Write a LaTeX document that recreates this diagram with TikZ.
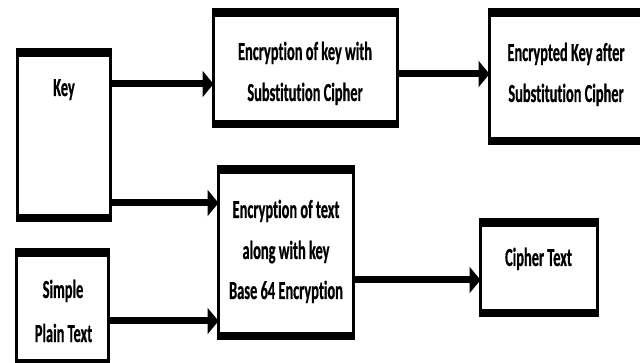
\documentclass[tikz,border=0pt]{standalone}
\usepackage{fontspec}
\newfontfamily\labfont[FakeStretch=0.554,FakeBold=0.6,Ligatures=NoCommon]{Carlito}
\usetikzlibrary{arrows.meta}
\begin{document}
\begin{tikzpicture}[x=1pt,y=-1pt,
  box/.style={draw=black, line width=3pt, rectangle, inner sep=0pt, outer sep=0pt},
  lab/.style={anchor=base, inner sep=0pt, font=\labfont\bfseries\fontsize{26}{30}\selectfont},
  arr/.style={line width=7pt, -{Triangle[length=11pt,width=26pt]}}]
\useasboundingbox (0,0) rectangle (640,363);
\clip (0,0) rectangle (640,363);
% boxes
\node[box, minimum width=93pt, minimum height=171pt] (key) at (64,135) {};
\node[box, minimum width=184pt, minimum height=117pt] (enckey) at (305.5,68) {};
\node[box, minimum width=164pt, minimum height=134pt] (encd) at (571.5,76.5) {};
\node[box, minimum width=92pt, minimum height=116pt] (plain) at (62.5,307.5) {};
\node[box, minimum width=135pt, minimum height=172pt] (enctext) at (286,252.5) {};
\node[box, minimum width=117pt, minimum height=96pt] (cipher) at (539,267.5) {};
% thick top and bottom bands
\foreach \n in {key,enckey,encd,plain,enctext,cipher}{
  \fill ([xshift=-1.5pt,yshift=1.5pt]\n.north west) rectangle ([xshift=1.5pt,yshift=-7.5pt]\n.north east);
  \fill ([xshift=-1.5pt,yshift=-1.5pt]\n.south west) rectangle ([xshift=1.5pt,yshift=6.5pt]\n.south east);
}
% labels
\node[lab] (tkey) at (64,96) {Key};
\node[lab] (tek1) at (305,60) {Encryption of key with};
\node[lab] (tek2) at (305,101) {Substitution Cipher};
\node[lab] (ted1) at (566,61) {Encrypted Key after};
\node[lab] (ted2) at (566,102) {Substitution Cipher};
\node[lab] (tpl1) at (63,298) {Simple};
\node[lab] (tpl2) at (63.5,342) {Plain Text};
\node[lab] (tet1) at (286,218) {Encryption of text};
\node[lab] (tet2) at (286,259) {along with key};
\node[lab] (tet3) at (286,299) {Base 64 Encryption};
\node[lab] (tci) at (538.5,266) {Cipher Text};
% connectors
\draw[arr] (key.east |- 0,84) -- (enckey.west |- 0,84);
\draw[arr] (enckey.east |- 0,74) -- (encd.west |- 0,74);
\draw[arr] (key.east |- 0,203) -- (enctext.west |- 0,203);
\draw[arr] (plain.east |- 0,321) -- (enctext.west |- 0,321);
\draw[arr] (enctext.east |- 0,280) -- (cipher.west |- 0,280);
\end{tikzpicture}
\end{document}
